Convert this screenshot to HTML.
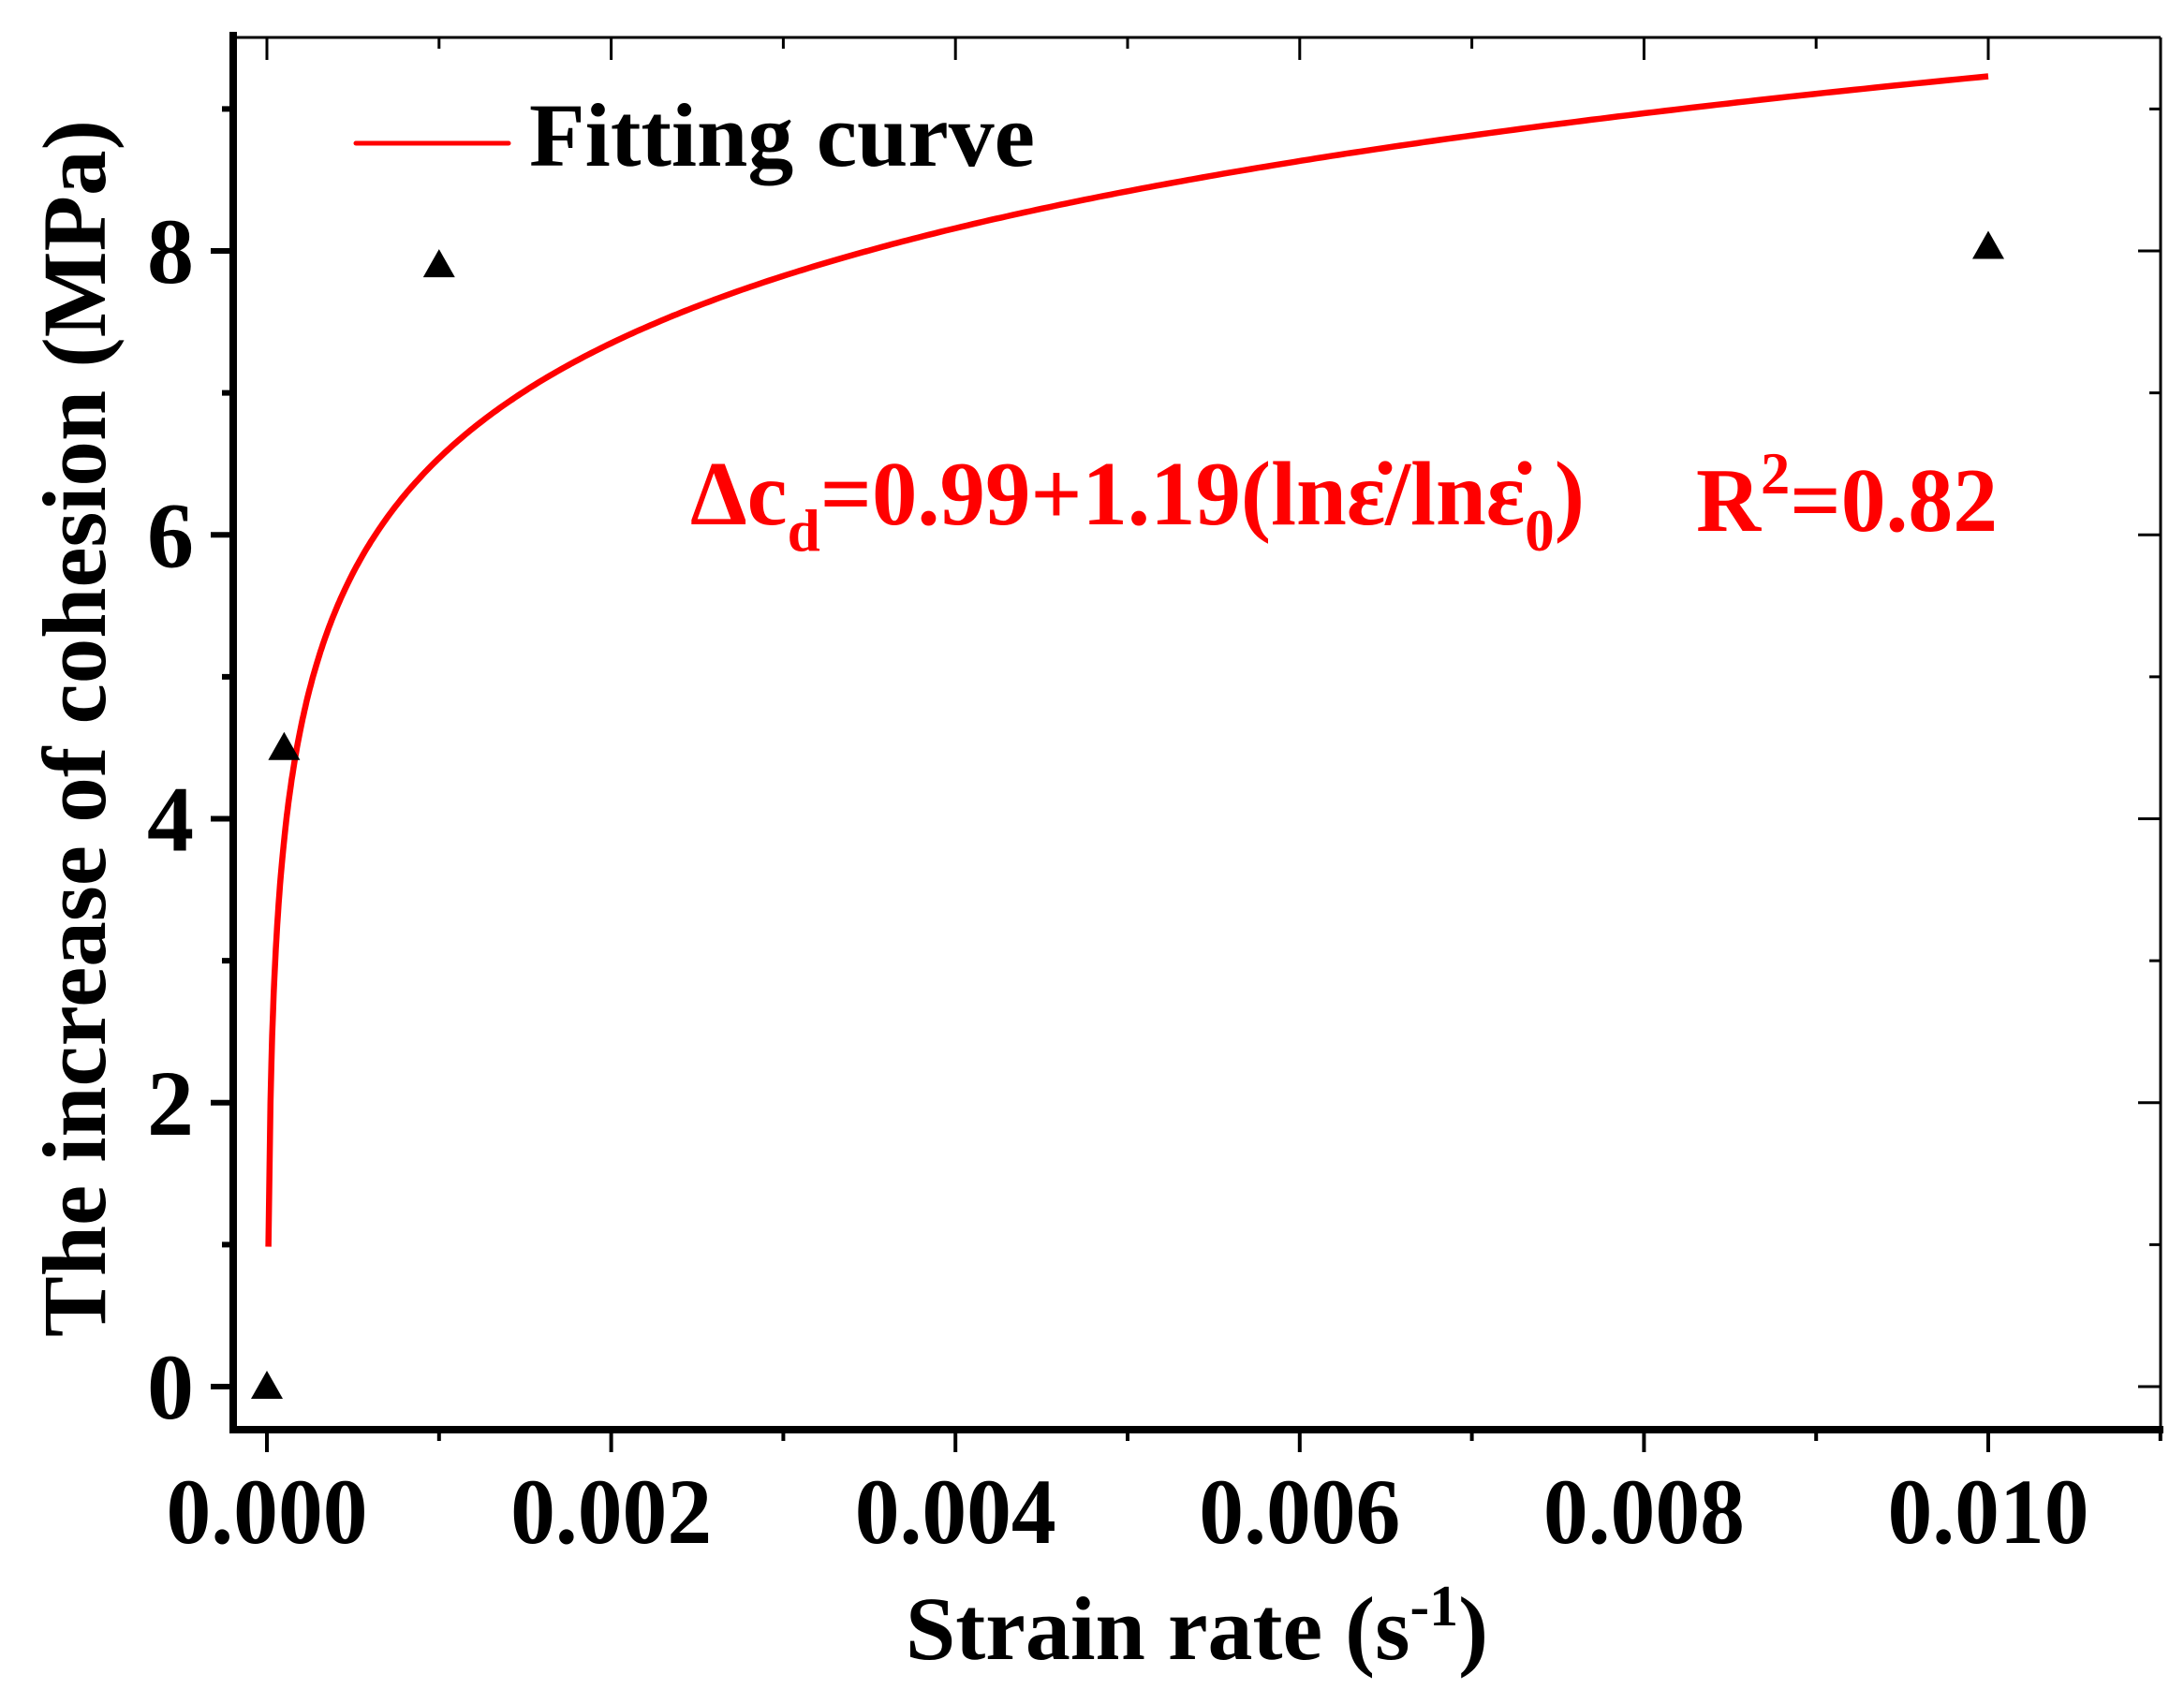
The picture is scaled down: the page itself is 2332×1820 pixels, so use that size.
<!DOCTYPE html>
<html><head><meta charset="utf-8"><style>
html,body{margin:0;padding:0;background:#fff}
svg{display:block}
text{font-family:"Liberation Serif",serif;font-weight:bold}
</style></head><body>
<svg id="chart" width="2332" height="1820" viewBox="0 0 2332 1820" xmlns="http://www.w3.org/2000/svg">
<g id="plot"></g>
</svg>
<script>
const xTicks = [0, 0.002, 0.004, 0.006, 0.008, 0.010];
const xTickLabels = ["0.000", "0.002", "0.004", "0.006", "0.008", "0.010"];
const yTicks = [0, 2, 4, 6, 8];
const yTickLabels = ["0", "2", "4", "6", "8"];
const pointX = [0, 0.0001, 0.001, 0.01];
const pointY = [0, 4.5, 7.9, 8.03];
const fitParams = [9.23, 1.168, 0.01];
const fitRange = [0.0000086, 0.01];

const NS = "http://www.w3.org/2000/svg";
const svg = document.getElementById('plot');
const L = 249, R = 2307, T = 40, B = 1527;
const x0 = 285, x1 = 2123, y0 = 1481, y8 = 268;
function sx(v){ return x0 + (x1 - x0) * v / 0.01; }
function sy(v){ return y0 + (y8 - y0) * v / 8; }
function mk(tag, attrs, parent){
  const e = document.createElementNS(NS, tag);
  for (const k in attrs) e.setAttribute(k, attrs[k]);
  (parent || svg).appendChild(e);
  return e;
}

let e = mk('line', {x1:L, y1:T, x2:R, y2:T, stroke:'#000', 'stroke-width':3});


e = mk('line', {x1:R, y1:T, x2:R, y2:B, stroke:'#000', 'stroke-width':3});


e = mk('line', {x1:L, y1:T-6, x2:L, y2:B+4, stroke:'#000', 'stroke-width':8});


e = mk('line', {x1:L-4, y1:B, x2:R+3, y2:B, stroke:'#000', 'stroke-width':8});



for (let i = 0; i <= 11; i++) {
  const v = i * 0.001, px = sx(v), major = i % 2 === 0;
  e = mk('line', {x1:px, y1:B, x2:px, y2:B + (major ? 24 : 12), stroke:'#000', 'stroke-width':4});
  
  
  if (i <= 10) {
    e = mk('line', {x1:px, y1:T, x2:px, y2:T + (major ? 24 : 12), stroke:'#000', 'stroke-width':3});
    
    
  }
}
xTicks.forEach((v, i) => {
  const t = mk('text', {x:sx(v), y:1648, 'text-anchor':'middle', 'font-size':100, textLength:215, lengthAdjust:'spacingAndGlyphs'});
  t.textContent = xTickLabels[i];
  
  
});

for (let i = 0; i <= 9; i++) {
  const py = sy(i), major = i % 2 === 0;
  e = mk('line', {x1:L - (major ? 24 : 12), y1:py, x2:L, y2:py, stroke:'#000', 'stroke-width':6});
  
  
  e = mk('line', {x1:R - (major ? 24 : 12), y1:py, x2:R, y2:py, stroke:'#000', 'stroke-width':3});
  
  
}
yTicks.forEach((v, i) => {
  const t = mk('text', {x:182, y:sy(v) + 34, 'text-anchor':'middle', 'font-size':100});
  t.textContent = yTickLabels[i];
  
  
});

const pts = [];
const N = 400;
const lnA = Math.log(fitRange[0]), lnB = Math.log(fitRange[1]);
for (let i = 0; i <= N; i++) {
  const xv = Math.exp(lnA + (lnB - lnA) * Math.pow(i / N, 0.35) );
  const yv = fitParams[0] + fitParams[1] * Math.log(xv / fitParams[2]);
  pts.push(sx(xv).toFixed(1) + ',' + sy(yv).toFixed(1));
}
e = mk('polyline', {points:pts.join(' '), fill:'none', stroke:'#ff0000', 'stroke-width':6.5});



pointX.forEach((xv, i) => {
  const px = sx(xv), py = sy(pointY[i]);
  const m = mk('polygon', {points:`${px},${py-17} ${px-17},${py+13} ${px+17},${py+13}`, fill:'#000'});
  
  
});

const lg = mk('g', {});


e = mk('line', {x1:380, y1:153, x2:543, y2:153, stroke:'#ff0000', 'stroke-width':5, 'stroke-linecap':'round'}, lg);


e = mk('text', {x:565, y:177, 'font-size':96, textLength:540, lengthAdjust:'spacingAndGlyphs'}, lg);
e.textContent = 'Fitting curve';



e = mk('text', {x:737, y:560, 'font-size':98, fill:'#ff0000', textLength:955, lengthAdjust:'spacingAndGlyphs'});
e.innerHTML = 'Δc<tspan dy="28" font-size="64">d</tspan><tspan dy="-28">=0.99+1.19(lnε̇/lnε̇</tspan><tspan dy="28" font-size="64">0</tspan><tspan dy="-28">)</tspan>';


e = mk('text', {x:1811, y:567, 'font-size':98, fill:'#ff0000', textLength:322, lengthAdjust:'spacingAndGlyphs'});
e.innerHTML = 'R<tspan dy="-40" font-size="64">2</tspan><tspan dy="40">=0.82</tspan>';



e = mk('text', {x:1278, y:1772, 'text-anchor':'middle', 'font-size':96});
e.innerHTML = 'Strain rate (s<tspan dy="-36" font-size="62">-1</tspan><tspan dy="36">)</tspan>';


e = mk('text', {x:0, y:0, 'text-anchor':'middle', 'font-size':96, transform:'translate(112,778) rotate(-90)', textLength:1300, lengthAdjust:'spacingAndGlyphs'});
e.textContent = 'The increase of cohesion (MPa)';


</script>
</body></html>
